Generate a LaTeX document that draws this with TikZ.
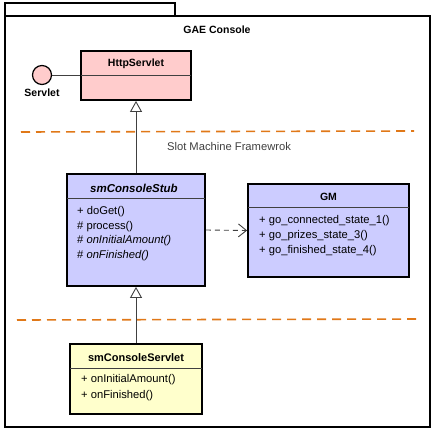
\documentclass[tikz,border=0pt]{standalone}
\usepackage{fontspec}
\setmainfont{Liberation Sans}
\usetikzlibrary{arrows.meta,positioning}

\definecolor{pinkfill}{HTML}{FFCCCC}
\definecolor{bluefill}{HTML}{CCCCFF}
\definecolor{yellowfill}{HTML}{FFFFCC}
\definecolor{layerline}{HTML}{E07818}
\definecolor{linkgray}{HTML}{404040}

\tikzset{
  classbox/.style={draw=black, line width=1.8pt, inner sep=0pt},
  classname/.style={font=\fontsize{10.5}{12}\selectfont\bfseries, inner sep=0pt},
  member/.style={font=\fontsize{11.2}{13}\selectfont, anchor=west, inner sep=0pt},
  divider/.style={draw=linkgray, line width=0.8pt},
  inherit/.style={draw=linkgray, line width=0.9pt,
    -{Triangle[open, width=12pt, length=11pt, fill=white]}},
  depend/.style={draw=linkgray, line width=0.9pt, dash pattern=on 5pt off 4pt,
    -{Straight Barb[length=8pt, width=13pt]}},
  layer/.style={draw=layerline, line width=1.6pt, dash pattern=on 9pt off 6pt},
}

\begin{document}
\begin{tikzpicture}[x=1pt, y=-1pt]
  \useasboundingbox (0,0) rectangle (435,433);

  % package frame with its tab
  \draw[line width=1.5pt] (5,16) -- (5,3) -- (175,3) -- (175,16);
  \draw[line width=1.5pt] (5,16) rectangle (430,427);
  \node[classname] (pkg) at (217,30) {GAE Console};

  % layer separators
  \draw[layer] (21,132) -- (414,131);
  \draw[layer] (17,320) -- (421,319);
  \node[member, anchor=center, text=linkgray] (layername) at (229,146) {Slot Machine Framewrok};

  % HttpServlet
  \node[classbox, fill=pinkfill, minimum width=110pt, minimum height=49pt] (http) at (136,75.5) {};
  \draw[divider] (81,75) -- (191,75);
  \node[classname] (httpname) at (136,64) {HttpServlet};

  % Servlet interface (lollipop)
  \node[circle, draw=black, line width=1.2pt, fill=pinkfill, minimum size=19pt, inner sep=0pt] (servlet) at (42,75) {};
  \node[classname] (servletname) at (42,93) {Servlet};
  \draw[draw=linkgray, line width=0.9pt] (servlet) -- (http.west |- servlet);

  % smConsoleStub
  \node[classbox, fill=bluefill, minimum width=138pt, minimum height=112pt] (stub) at (136,230) {};
  \draw[divider] (67,198) -- (205,198);
  \node[classname, font=\fontsize{11.5}{13}\selectfont\bfseries\itshape] (stubname) at (134,188) {smConsoleStub};
  \node[member] (doget) at (77,211.5) {+ doGet()};
  \node[member] (process) at (77,226.5) {\# process()};
  \node[member] (oninit) at (77,241) {\# \textit{onInitialAmount()}};
  \node[member] (onfin) at (77,256) {\# \textit{onFinished()}};

  % GM
  \node[classbox, fill=bluefill, minimum width=161pt, minimum height=93pt] (gm) at (328.5,230.5) {};
  \draw[divider] (248,207) -- (409,207);
  \node[classname] (gmname) at (328.5,197) {GM};
  \node[member] (gostate1) at (259,221) {+ go\_connected\_state\_1()};
  \node[member] (gostate3) at (259,236) {+ go\_prizes\_state\_3()};
  \node[member] (gostate4) at (259,251) {+ go\_finished\_state\_4()};

  % smConsoleServlet
  \node[classbox, fill=yellowfill, minimum width=132pt, minimum height=70pt] (cservlet) at (136,379) {};
  \draw[divider] (70,368) -- (202,368);
  \node[classname, font=\fontsize{11}{13}\selectfont\bfseries] (cservletname) at (136,357.5) {smConsoleServlet};
  \node[member] (cinit) at (81,380) {+ onInitialAmount()};
  \node[member] (cfin) at (81,396) {+ onFinished()};

  % relations
  \draw[inherit] (stub.north) -- (http.south);
  \draw[inherit] (cservlet.north) -- (stub.south);
  \draw[depend] (stub.east) -- (gm.west);
\end{tikzpicture}
\end{document}
